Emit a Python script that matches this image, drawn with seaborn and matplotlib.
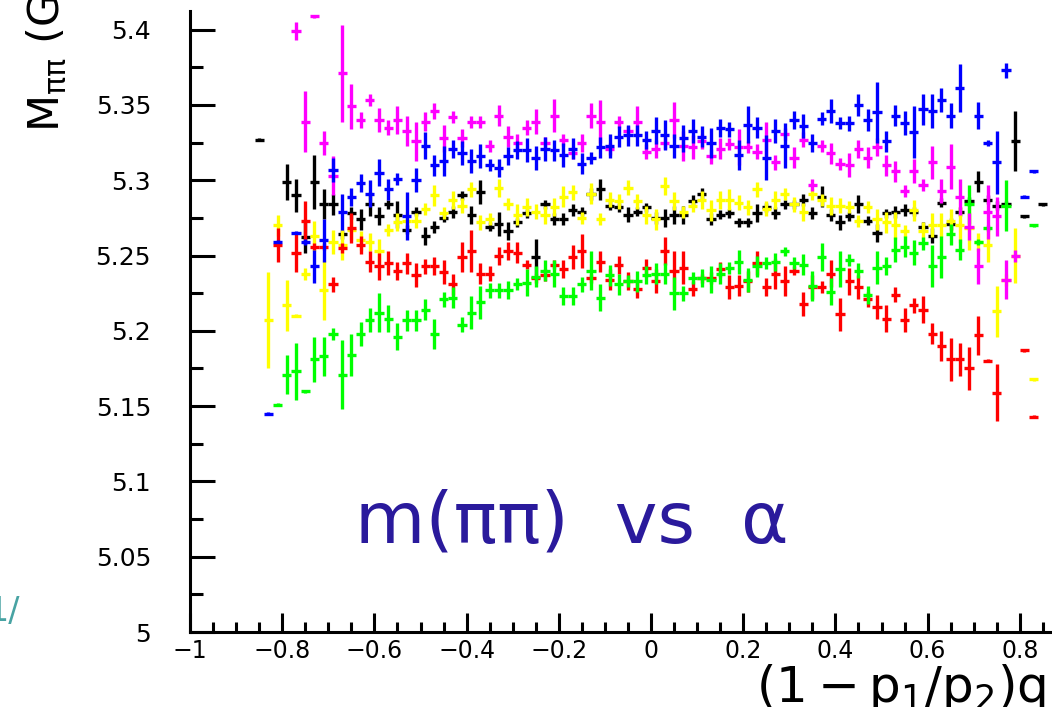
import numpy as np
import pandas as pd
import matplotlib
matplotlib.use("Agg")
import matplotlib.pyplot as plt
import seaborn as sns
from matplotlib.ticker import MultipleLocator, FuncFormatter

nan = np.nan
# bin centres: 86 bins of width 0.02, from -0.85 to 0.85
x_bins = np.round(np.arange(-0.85, 0.851, 0.02), 2)
half_width = 0.01

magenta_y = [nan, nan, nan, nan, 5.399, 5.339, 5.409, 5.325, 5.303, 5.371,
             5.349, 5.340, 5.353, 5.340, 5.335, 5.340, 5.333, 5.326, 5.339, 5.346,
             5.328, 5.342, 5.328, 5.339, 5.339, 5.323, 5.343, 5.329, 5.325, 5.335,
             5.339, 5.325, 5.343, 5.327, 5.318, 5.325, 5.343, 5.339, 5.321, 5.339,
             5.333, 5.339, 5.319, 5.321, 5.325, 5.340, 5.323, 5.322, 5.326, 5.316,
             5.321, 5.324, 5.322, 5.322, 5.319, 5.327, 5.312, 5.331, 5.315, 5.327,
             5.297, 5.323, 5.318, 5.311, 5.310, 5.321, 5.315, 5.322, 5.310, 5.306,
             5.293, 5.306, 5.297, 5.312, 5.293, 5.309, 5.289, 5.269, 5.243, 5.279,
             5.276, 5.234, 5.250, nan, nan, nan]
magenta_err = [nan, nan, nan, nan, 0.006, 0.020, 0.001, 0.008, 0.013, 0.032,
               0.015, 0.005, 0.004, 0.008, 0.005, 0.009, 0.010, 0.013, 0.006, 0.005,
               0.009, 0.004, 0.006, 0.004, 0.004, 0.004, 0.007, 0.007, 0.006, 0.005,
               0.008, 0.004, 0.011, 0.004, 0.004, 0.006, 0.008, 0.014, 0.004, 0.004,
               0.003, 0.010, 0.005, 0.006, 0.004, 0.012, 0.010, 0.008, 0.005, 0.005,
               0.007, 0.004, 0.012, 0.004, 0.005, 0.012, 0.005, 0.004, 0.007, 0.005,
               0.004, 0.004, 0.007, 0.004, 0.008, 0.006, 0.007, 0.006, 0.007, 0.007,
               0.004, 0.008, 0.004, 0.011, 0.008, 0.015, 0.012, 0.009, 0.012, 0.018,
               0.013, 0.013, 0.004, nan, nan, nan]

blue_y = [nan, 5.145, 5.259, nan, 5.265, 5.259, 5.243, 5.260, 5.307, 5.279,
          5.289, 5.298, 5.291, 5.305, 5.294, 5.301, 5.276, 5.300, 5.323, 5.310,
          5.313, 5.321, 5.318, 5.313, 5.316, 5.310, 5.308, 5.316, 5.320, 5.320,
          5.315, 5.321, 5.320, 5.317, 5.321, 5.311, 5.315, 5.322, 5.323, 5.329,
          5.330, 5.330, 5.327, 5.333, 5.330, 5.323, 5.328, 5.333, 5.329, 5.325,
          5.335, 5.334, 5.317, 5.337, 5.335, 5.315, 5.333, 5.323, 5.340, 5.336,
          5.325, 5.341, 5.346, 5.338, 5.338, 5.350, 5.340, 5.345, 5.326, 5.343,
          5.338, 5.332, 5.347, 5.346, 5.353, 5.343, 5.361, nan, 5.343, 5.325,
          5.312, 5.373, nan, 5.289, 5.306, nan]
blue_err = [nan, 0.001, 0.001, nan, 0.001, 0.002, 0.011, 0.014, 0.008, 0.012,
            0.006, 0.006, 0.009, 0.009, 0.007, 0.004, 0.016, 0.008, 0.009, 0.007,
            0.010, 0.006, 0.008, 0.008, 0.008, 0.004, 0.006, 0.006, 0.006, 0.008,
            0.008, 0.008, 0.007, 0.008, 0.007, 0.007, 0.004, 0.007, 0.008, 0.007,
            0.007, 0.007, 0.006, 0.009, 0.010, 0.008, 0.009, 0.008, 0.007, 0.010,
            0.006, 0.005, 0.010, 0.012, 0.007, 0.015, 0.008, 0.015, 0.006, 0.008,
            0.006, 0.004, 0.008, 0.004, 0.005, 0.007, 0.007, 0.020, 0.007, 0.007,
            0.008, 0.017, 0.010, 0.011, 0.008, 0.008, 0.016, nan, 0.009, 0.002,
            0.021, 0.005, nan, 0.001, 0.001, nan]

black_y = [5.327, nan, nan, 5.299, 5.290, 5.262, 5.299, 5.284, 5.284, 5.264,
           5.278, 5.274, 5.284, 5.276, 5.284, 5.277, 5.267, 5.279, 5.263, 5.269,
           5.275, 5.279, 5.290, 5.277, 5.292, 5.269, 5.271, 5.266, 5.272, 5.278,
           5.249, 5.284, 5.274, 5.274, 5.280, 5.279, 5.291, 5.294, 5.283, 5.282,
           5.277, 5.279, 5.282, 5.275, 5.275, 5.277, 5.277, 5.286, 5.291, 5.274,
           5.277, 5.278, 5.272, 5.272, 5.278, 5.282, 5.278, 5.284, 5.284, 5.287,
           5.278, 5.289, 5.277, 5.272, 5.276, 5.284, 5.273, 5.265, 5.278, 5.279,
           5.280, 5.279, 5.269, 5.263, 5.285, 5.271, 5.279, 5.286, 5.299, 5.287,
           5.283, 5.284, 5.326, 5.276, nan, 5.284]
black_err = [0.001, nan, nan, 0.012, 0.011, 0.010, 0.018, 0.010, 0.007, 0.003,
             0.004, 0.007, 0.008, 0.006, 0.003, 0.009, 0.003, 0.003, 0.006, 0.004,
             0.003, 0.004, 0.003, 0.006, 0.008, 0.003, 0.008, 0.006, 0.003, 0.003,
             0.012, 0.003, 0.004, 0.004, 0.004, 0.003, 0.004, 0.007, 0.003, 0.003,
             0.005, 0.003, 0.003, 0.004, 0.006, 0.006, 0.006, 0.004, 0.004, 0.004,
             0.003, 0.003, 0.003, 0.003, 0.006, 0.003, 0.004, 0.003, 0.003, 0.004,
             0.004, 0.007, 0.004, 0.005, 0.003, 0.006, 0.003, 0.006, 0.003, 0.004,
             0.004, 0.003, 0.003, 0.005, 0.003, 0.004, 0.003, 0.003, 0.007, 0.003,
             0.003, 0.002, 0.020, 0.001, nan, 0.001]

yellow_y = [nan, 5.207, 5.270, 5.217, 5.210, 5.238, 5.263, 5.227, 5.259, 5.257,
            5.267, 5.260, 5.259, 5.253, 5.267, 5.272, 5.273, 5.273, 5.281, 5.290,
            5.278, 5.287, 5.283, 5.294, 5.272, 5.274, 5.295, 5.284, 5.277, 5.282,
            5.279, 5.277, 5.282, 5.289, 5.292, 5.275, 5.291, 5.274, 5.287, 5.286,
            5.295, 5.286, 5.277, 5.274, 5.296, 5.286, 5.279, 5.283, 5.287, 5.280,
            5.287, 5.287, 5.285, 5.282, 5.294, 5.281, 5.287, 5.291, 5.284, 5.279,
            5.291, 5.287, 5.283, 5.283, 5.282, 5.273, 5.282, 5.274, 5.272, 5.270,
            5.266, 5.280, 5.266, 5.270, 5.270, 5.273, 5.270, 5.268, 5.259, 5.257,
            5.213, 5.234, 5.250, nan, 5.168, nan]
yellow_err = [nan, 0.032, 0.007, 0.017, 0.001, 0.004, 0.010, 0.020, 0.008, 0.010,
              0.007, 0.006, 0.006, 0.008, 0.004, 0.006, 0.006, 0.005, 0.004, 0.007,
              0.004, 0.006, 0.005, 0.005, 0.005, 0.004, 0.006, 0.004, 0.007, 0.006,
              0.005, 0.006, 0.006, 0.007, 0.005, 0.004, 0.007, 0.004, 0.005, 0.005,
              0.005, 0.005, 0.006, 0.007, 0.006, 0.006, 0.004, 0.004, 0.006, 0.007,
              0.006, 0.007, 0.005, 0.005, 0.005, 0.005, 0.006, 0.004, 0.005, 0.006,
              0.004, 0.004, 0.006, 0.005, 0.004, 0.004, 0.004, 0.007, 0.007, 0.009,
              0.004, 0.007, 0.006, 0.008, 0.008, 0.008, 0.012, 0.014, 0.006, 0.011,
              0.017, 0.004, 0.018, nan, 0.001, nan]

green_y = [nan, nan, 5.151, 5.171, 5.173, 5.160, 5.181, 5.183, 5.198, 5.171,
           5.184, 5.198, 5.207, 5.212, 5.208, 5.196, 5.207, 5.207, 5.214, 5.198,
           5.221, 5.222, 5.204, 5.212, 5.219, 5.227, 5.227, 5.227, 5.231, 5.232,
           5.236, 5.240, 5.238, 5.223, 5.223, 5.231, 5.240, 5.222, 5.237, 5.231,
           5.233, 5.233, 5.237, 5.238, 5.238, 5.225, 5.225, 5.235, 5.235, 5.234,
           5.238, 5.242, 5.246, 5.234, 5.243, 5.245, 5.246, 5.253, 5.245, 5.244,
           5.230, 5.249, 5.226, 5.241, 5.247, 5.240, 5.224, 5.242, 5.243, 5.254,
           5.256, 5.252, 5.258, 5.243, 5.249, 5.264, 5.254, 5.284, 5.259, 5.268,
           nan, 5.283, nan, nan, 5.270, nan]
green_err = [nan, nan, 0.001, 0.013, 0.019, 0.001, 0.015, 0.013, 0.004, 0.023,
             0.014, 0.008, 0.008, 0.013, 0.009, 0.009, 0.007, 0.007, 0.007, 0.010,
             0.005, 0.007, 0.005, 0.011, 0.011, 0.005, 0.005, 0.006, 0.004, 0.009,
             0.007, 0.007, 0.009, 0.006, 0.006, 0.005, 0.013, 0.009, 0.007, 0.007,
             0.004, 0.007, 0.006, 0.007, 0.007, 0.011, 0.005, 0.004, 0.006, 0.009,
             0.007, 0.004, 0.008, 0.008, 0.007, 0.004, 0.006, 0.003, 0.004, 0.007,
             0.010, 0.009, 0.009, 0.012, 0.004, 0.005, 0.006, 0.011, 0.006, 0.008,
             0.007, 0.008, 0.004, 0.014, 0.014, 0.007, 0.007, 0.013, 0.002, 0.002,
             nan, 0.017, nan, nan, 0.001, nan]

red_y = [nan, nan, 5.257, nan, 5.252, 5.273, 5.256, 5.256, 5.231, 5.255,
         5.268, 5.257, 5.246, 5.243, 5.245, 5.240, 5.245, 5.237, 5.243, 5.243,
         5.239, 5.231, 5.249, 5.253, 5.238, 5.238, 5.250, 5.253, 5.252, 5.244,
         5.235, 5.237, 5.244, 5.241, 5.249, 5.253, 5.235, 5.246, 5.234, 5.244,
         5.233, 5.228, 5.242, 5.233, 5.253, 5.240, 5.242, 5.228, 5.235, 5.235,
         5.241, 5.229, 5.230, 5.233, 5.245, 5.229, 5.238, 5.233, 5.240, 5.218,
         5.229, 5.229, 5.238, 5.211, 5.233, 5.229, 5.221, 5.216, 5.208, 5.224,
         5.207, 5.217, 5.214, 5.198, 5.190, 5.181, 5.181, 5.175, 5.197, 5.180,
         5.159, nan, nan, 5.187, 5.143, nan]
red_err = [nan, nan, 0.011, nan, 0.013, 0.013, 0.002, 0.002, 0.005, 0.003,
           0.010, 0.006, 0.007, 0.009, 0.008, 0.006, 0.007, 0.008, 0.005, 0.006,
           0.008, 0.007, 0.010, 0.014, 0.007, 0.005, 0.006, 0.006, 0.007, 0.003,
           0.003, 0.004, 0.003, 0.006, 0.008, 0.011, 0.003, 0.007, 0.007, 0.006,
           0.006, 0.006, 0.006, 0.008, 0.009, 0.013, 0.011, 0.005, 0.003, 0.004,
           0.005, 0.008, 0.007, 0.007, 0.008, 0.006, 0.010, 0.010, 0.003, 0.008,
           0.008, 0.004, 0.009, 0.011, 0.009, 0.008, 0.005, 0.008, 0.009, 0.005,
           0.008, 0.005, 0.009, 0.007, 0.010, 0.014, 0.011, 0.014, 0.013, 0.001,
           0.019, nan, nan, 0.001, 0.001, nan]

series = {
    "black": (black_y, black_err, "#000000"),
    "yellow": (yellow_y, yellow_err, "#ffff00"),
    "red": (red_y, red_err, "#ff0000"),
    "green": (green_y, green_err, "#00ff00"),
    "magenta": (magenta_y, magenta_err, "#ff00ff"),
    "blue": (blue_y, blue_err, "#0000ff"),
}

frames = []
for name, (yv, ev, col) in series.items():
    frames.append(pd.DataFrame({"x": x_bins, "m": yv, "err": ev, "series": name}))
df = pd.concat(frames, ignore_index=True).dropna()

sns.set_style("white")
plt.rcParams["font.family"] = ["DejaVu Sans"]
plt.rcParams["mathtext.fontset"] = "dejavusans"
plt.rcParams["text.color"] = "black"
plt.rcParams["xtick.color"] = "black"
plt.rcParams["ytick.color"] = "black"

fig = plt.figure(figsize=(10.52, 7.07), dpi=100)
ax = fig.add_axes([190 / 1052, 1 - 632 / 707, 1 - 190 / 1052, (632 - 11) / 707])

for name, (yv, ev, col) in series.items():
    d = df[df["series"] == name]
    ax.errorbar(d["x"], d["m"], yerr=d["err"], xerr=half_width, fmt="none",
                ecolor=col, elinewidth=2.4, capsize=0)

ax.set_xlim(-1, 0.8698)
ax.set_ylim(5.0, 5.4124)

for s in ["top", "right"]:
    ax.spines[s].set_visible(False)
for s in ["left", "bottom"]:
    ax.spines[s].set_linewidth(2.2)
    ax.spines[s].set_color("black")

ax.xaxis.set_major_locator(MultipleLocator(0.2))
ax.xaxis.set_minor_locator(MultipleLocator(0.05))
ax.yaxis.set_major_locator(MultipleLocator(0.05))
ax.yaxis.set_minor_locator(MultipleLocator(0.025))

fmt = FuncFormatter(lambda v, p: ("%g" % round(v, 3)).replace("-", "\u2212"))
ax.xaxis.set_major_formatter(fmt)
ax.yaxis.set_major_formatter(fmt)

ax.tick_params(axis="y", which="major", direction="in", length=18, width=2.2,
               labelsize=18, pad=28, left=True, labelcolor="black")
ax.tick_params(axis="y", which="minor", direction="in", length=9, width=2.2, left=True)
ax.tick_params(axis="x", which="major", direction="in", length=14, width=2.2,
               labelsize=17, pad=5, bottom=True, labelcolor="black")
ax.tick_params(axis="x", which="minor", direction="in", length=7, width=2.2, bottom=True)

fig.text(44 / 1052, 1 - 132 / 707, r"M$_{\mathrm{\pi\pi}}$ (GeV/c$^2$)", rotation=90,
         ha="center", va="bottom", fontsize=31, color="black")
fig.text(1046 / 1052, 1 - 662 / 707, r"$\mathrm{(1-p_1/p_2)q}$", ha="right",
         va="top", fontsize=36, color="black")
ax.text(0.443, 0.176, "m(\u03c0\u03c0)  vs  \u03b1", transform=ax.transAxes,
        ha="center", va="center", fontsize=52, color="#2a1a9c")
# remnant of a neighbouring slide at the left edge
fig.text(-0.012, 1 - 612 / 707, "1/", ha="left", va="center", fontsize=24,
         color="#1a8c8c", alpha=0.8)

fig.savefig("out.png", dpi=100)
